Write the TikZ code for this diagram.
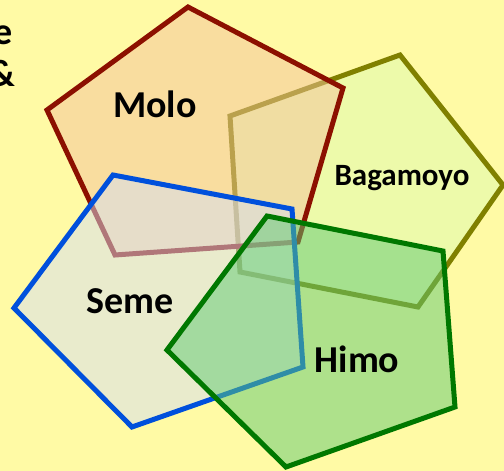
\documentclass[tikz,border=0pt]{standalone}
\usepackage{fontspec}
\setmainfont{Carlito}
\usetikzlibrary{positioning}

\definecolor{bgyellow}{RGB}{255,250,165}
\definecolor{molored}{RGB}{140,16,0}
\definecolor{molofill}{RGB}{244,194,155}
\definecolor{bagaolive}{RGB}{128,128,0}
\definecolor{bagafill}{RGB}{221,250,175}
\definecolor{semeblue}{RGB}{0,80,220}
\definecolor{semefill}{RGB}{213,222,243}
\definecolor{himogreen}{RGB}{0,120,0}
\definecolor{himofill}{RGB}{95,202,115}

\begin{document}
\begin{tikzpicture}[x=1pt, y=-1pt,
    region/.style={line width=5pt, fill opacity=.5},
    place/.style={font=\bfseries\fontsize{#1}{#1}\selectfont}]
        \fill[bgyellow] (0,0) rectangle (504,471);
        \useasboundingbox (0,0) rectangle (504,471);
        % regions, lowest first
        \draw[region, draw=bagaolive, fill=bagafill]
          (400,55) -- (503,185) -- (418,307) -- (240,272) -- (230,116) -- cycle;
        \draw[region, draw=molored, fill=molofill]
          (188,7) -- (343,88) -- (298,242) -- (115,255) -- (47,110) -- cycle;
        \draw[region, draw=semeblue, fill=semefill]
          (113,175) -- (292,209) -- (303,367) -- (132,427) -- (14,308) -- cycle;
        \draw[region, draw=himogreen, fill=himofill]
          (267,216) -- (443,251) -- (455,407) -- (286,467) -- (167,350) -- cycle;
        % names
        \node[place=38] (molo) at (155,104) {Molo};
        \node[place=31] (bagamoyo) at (402,178) {Bagamoyo};
        \node[place=38] (seme) at (130,301) {Seme};
        \node[place=38] (himo) at (357,359) {Himo};
        \node[place=38, anchor=base east, inner sep=0pt] (title1) at (13,45) {e};
        \node[place=38, anchor=base east, inner sep=0pt] (title2) at (15,86) {\&};
\end{tikzpicture}
\end{document}
